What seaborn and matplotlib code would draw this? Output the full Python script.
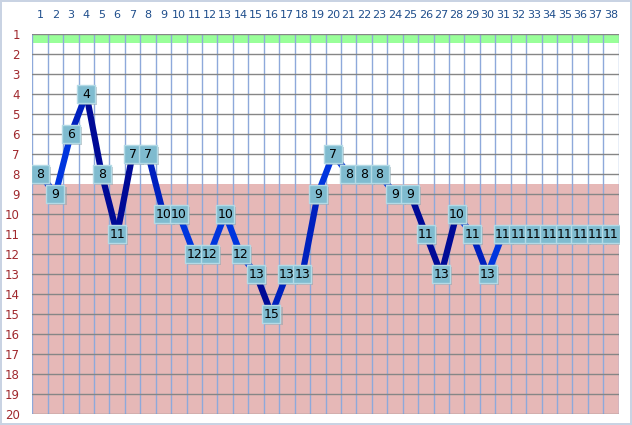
import numpy as np
import pandas as pd
import seaborn as sns
import matplotlib
matplotlib.use("Agg")
import matplotlib.pyplot as plt
import matplotlib.transforms as mtransforms

# 期号 1..38 和每期的位置
periods = list(range(1, 39))
values = [8, 9, 6, 4, 8, 11, 7, 7, 10, 10, 12, 12, 10, 12, 13, 15, 13, 13, 9, 7,
          8, 8, 8, 9, 9, 11, 13, 10, 11, 13, 11, 11, 11, 11, 11, 11, 11, 11]
y_ticks = list(range(1, 21))

# segment shades (dark / mid / bright blue), one per segment
D, M, B = "#000A96", "#0020BE", "#0035DE"
seg_colors = [B, B, M, D, D, D, D, M, M, B, B, B, B, B, D, M, M, M, B, B,
              B, B, B, B, D, D, D, B, M, B, B, B, B, B, B, B, B]

sns.set_style("white")
plt.rcParams["font.family"] = ["DejaVu Sans"]

rows = []
for k in range(len(values) - 1):
    rows.append((periods[k], values[k], str(k)))
    rows.append((periods[k + 1], values[k + 1], str(k)))
seg_df = pd.DataFrame(rows, columns=["x", "v", "seg"])
pts = pd.DataFrame({"x": periods, "v": values})

fig = plt.figure(figsize=(6.32, 4.25), dpi=100)
fig.patch.set_edgecolor("#C9D3E3")
fig.patch.set_linewidth(1.5)
ax = fig.add_axes([32.3 / 632, 1 - 414.3 / 425, (618.7 - 32.3) / 632, (414.3 - 34) / 425])

# background bands
ax.axhspan(1, 1.45, color="#99FF99", zorder=0, lw=0)
ax.axhspan(8.5, 20, color="#E6B8B7", zorder=0, lw=0)

sns.lineplot(data=seg_df, x="x", y="v", hue="seg", palette=seg_colors, units="seg",
             estimator=None, sort=False, legend=False, linewidth=4.5,
             solid_capstyle="round", ax=ax, zorder=3)

# marker shadow then markers
shadow = mtransforms.offset_copy(ax.transData, fig=fig, x=1.5, y=-1.5, units="points")
ax.scatter(pts["x"], pts["v"], marker="s", s=165, color="#8FA5AD", alpha=0.55,
           linewidths=0, transform=shadow, zorder=4)
sns.scatterplot(data=pts, x="x", y="v", marker="s", s=155, color="#7FBBCF",
                edgecolor="#B3DAE6", linewidth=1.0, ax=ax, zorder=5, legend=False)
for x, v in zip(periods, values):
    ax.text(x, v, str(v), ha="center", va="center", fontsize=9, color="black", zorder=6)

ax.set_xlim(0.5, 38.5)
ax.set_ylim(20, 1)
ax.xaxis.tick_top()
ax.set_xticks(periods)
ax.set_xticks(np.arange(0.5, 39, 1), minor=True)
ax.set_yticks(y_ticks)
ax.tick_params(axis="x", which="both", length=0, pad=10, labelsize=8, labelcolor="#1F4E8C")
ax.tick_params(axis="y", which="major", length=3, width=1.0, color="#808080", pad=6,
               labelsize=8.5, labelcolor="#A0282D")
ax.grid(axis="x", which="minor", color="#8EA9DB", linewidth=1)
ax.grid(axis="x", which="major", visible=False)
ax.grid(axis="y", which="major", color="#868686", linewidth=1.0)
ax.set_axisbelow(True)
for s in ax.spines.values():
    s.set_visible(False)
ax.set_xlabel("")
ax.set_ylabel("")

fig.savefig("out.png", dpi=100)
